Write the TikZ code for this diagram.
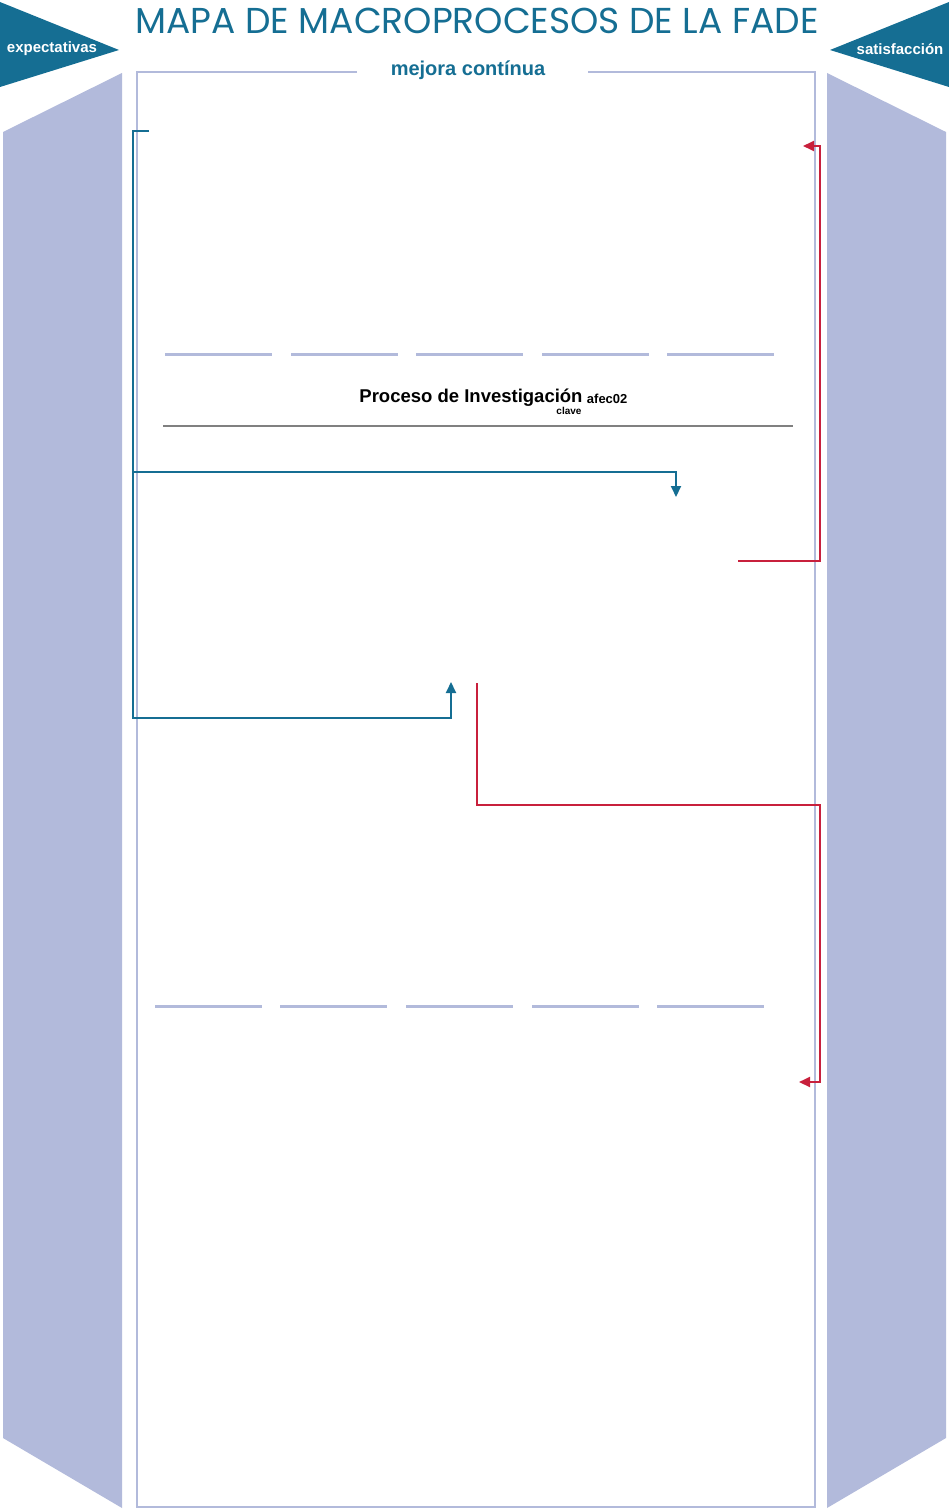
\documentclass[tikz,border=0pt]{standalone}
\usepackage{fontspec}
\setmainfont{Liberation Sans}
\newfontfamily\titlefont{Poppins}
\usetikzlibrary{arrows.meta,positioning}
\definecolor{fadeteal}{HTML}{156E93}
\definecolor{fadelav}{HTML}{B2BADB}
\definecolor{fadered}{HTML}{C8203C}

\begin{document}
\begin{tikzpicture}[x=1pt,y=-1pt,>={Triangle[length=11pt,width=10pt]},
    band/.style={fill=fadelav,draw=none},
    flag/.style={fill=fadeteal,draw=none},
    flagtext/.style={text=white,font=\bfseries\fontsize{15}{16}\selectfont},
    dashbar/.style={draw=fadelav,line width=3pt},
    blueflow/.style={draw=fadeteal,line width=2pt},
    redflow/.style={draw=fadered,line width=2pt}]
  \useasboundingbox (0,0) rectangle (949,1509);

  % flechas de entrada y salida
  \fill[flag] (0,2) -- (119,50) -- (0,87) -- cycle;
  \fill[flag] (949,2) -- (830,50) -- (949,87) -- cycle;
  \node[flagtext] (expect) at (52,49) {expectativas};
  \node[flagtext] (satis)  at (900,49) {satisfacción};

  % bandas laterales
  \fill[band] (3,132) -- (122,73) -- (122,1508) -- (3,1438) -- cycle;
  \fill[band] (827,73) -- (946,132) -- (946,1438) -- (827,1508) -- cycle;

  % titulo y marco de mejora
  \node[text=fadeteal,font=\titlefont\fontsize{36}{40}\selectfont] (title) at (477,21) {MAPA DE MACROPROCESOS DE LA FADE};
  \node[text=fadeteal,font=\bfseries\fontsize{20}{22}\selectfont] (mejora) at (468,70) {mejora contínua};
  \draw[fadelav,line width=2pt] (357,72) -- (137,72) -- (137,1507) -- (815,1507) -- (815,72) -- (588,72);

  % separadores
  \foreach \x in {165,291,416,542,667}
    \draw[dashbar] (\x,354) -- ++(107,0);
  \foreach \x in {155,280,406,532,657}
    \draw[dashbar] (\x,1006) -- ++(107,0);

  % proceso clave
  \node[font=\bfseries\fontsize{18.5}{20}\selectfont,inner sep=0pt] (invest) at (471,398) {Proceso de Investigación};
  \node[font=\bfseries\fontsize{13}{14}\selectfont,anchor=west,inner sep=0pt] (afec) at ([xshift=4pt,yshift=-1pt]invest.east) {afec02};
  \node[font=\bfseries\fontsize{10}{11}\selectfont,inner sep=0pt] (clave) at (569,411) {clave};
  \coordinate (ruleA) at (163,426);
  \coordinate (ruleB) at (793,426);
  \draw[gray,line width=2pt] (ruleA) -- (ruleB);

  % conectores
  \coordinate (bstart) at (149,131);
  \coordinate (bin)    at (676,497);
  \coordinate (bup)    at (451,682);
  \coordinate (rtop)   at (803,146);
  \coordinate (rfrom)  at (738,561);
  \coordinate (rdown)  at (477,683);
  \coordinate (rend)   at (799,1082);

  \draw[blueflow] (bstart) -- (133,131) -- (133,718) -- (bup |- 0,718) [->] -- (bup);
  \draw[blueflow,->] (133,472) -| (bin);
  \draw[redflow,->] (rfrom) -- (820,561) |- (rtop);
  \draw[redflow,->] (rdown) |- (820,805) |- (rend);
\end{tikzpicture}
\end{document}
